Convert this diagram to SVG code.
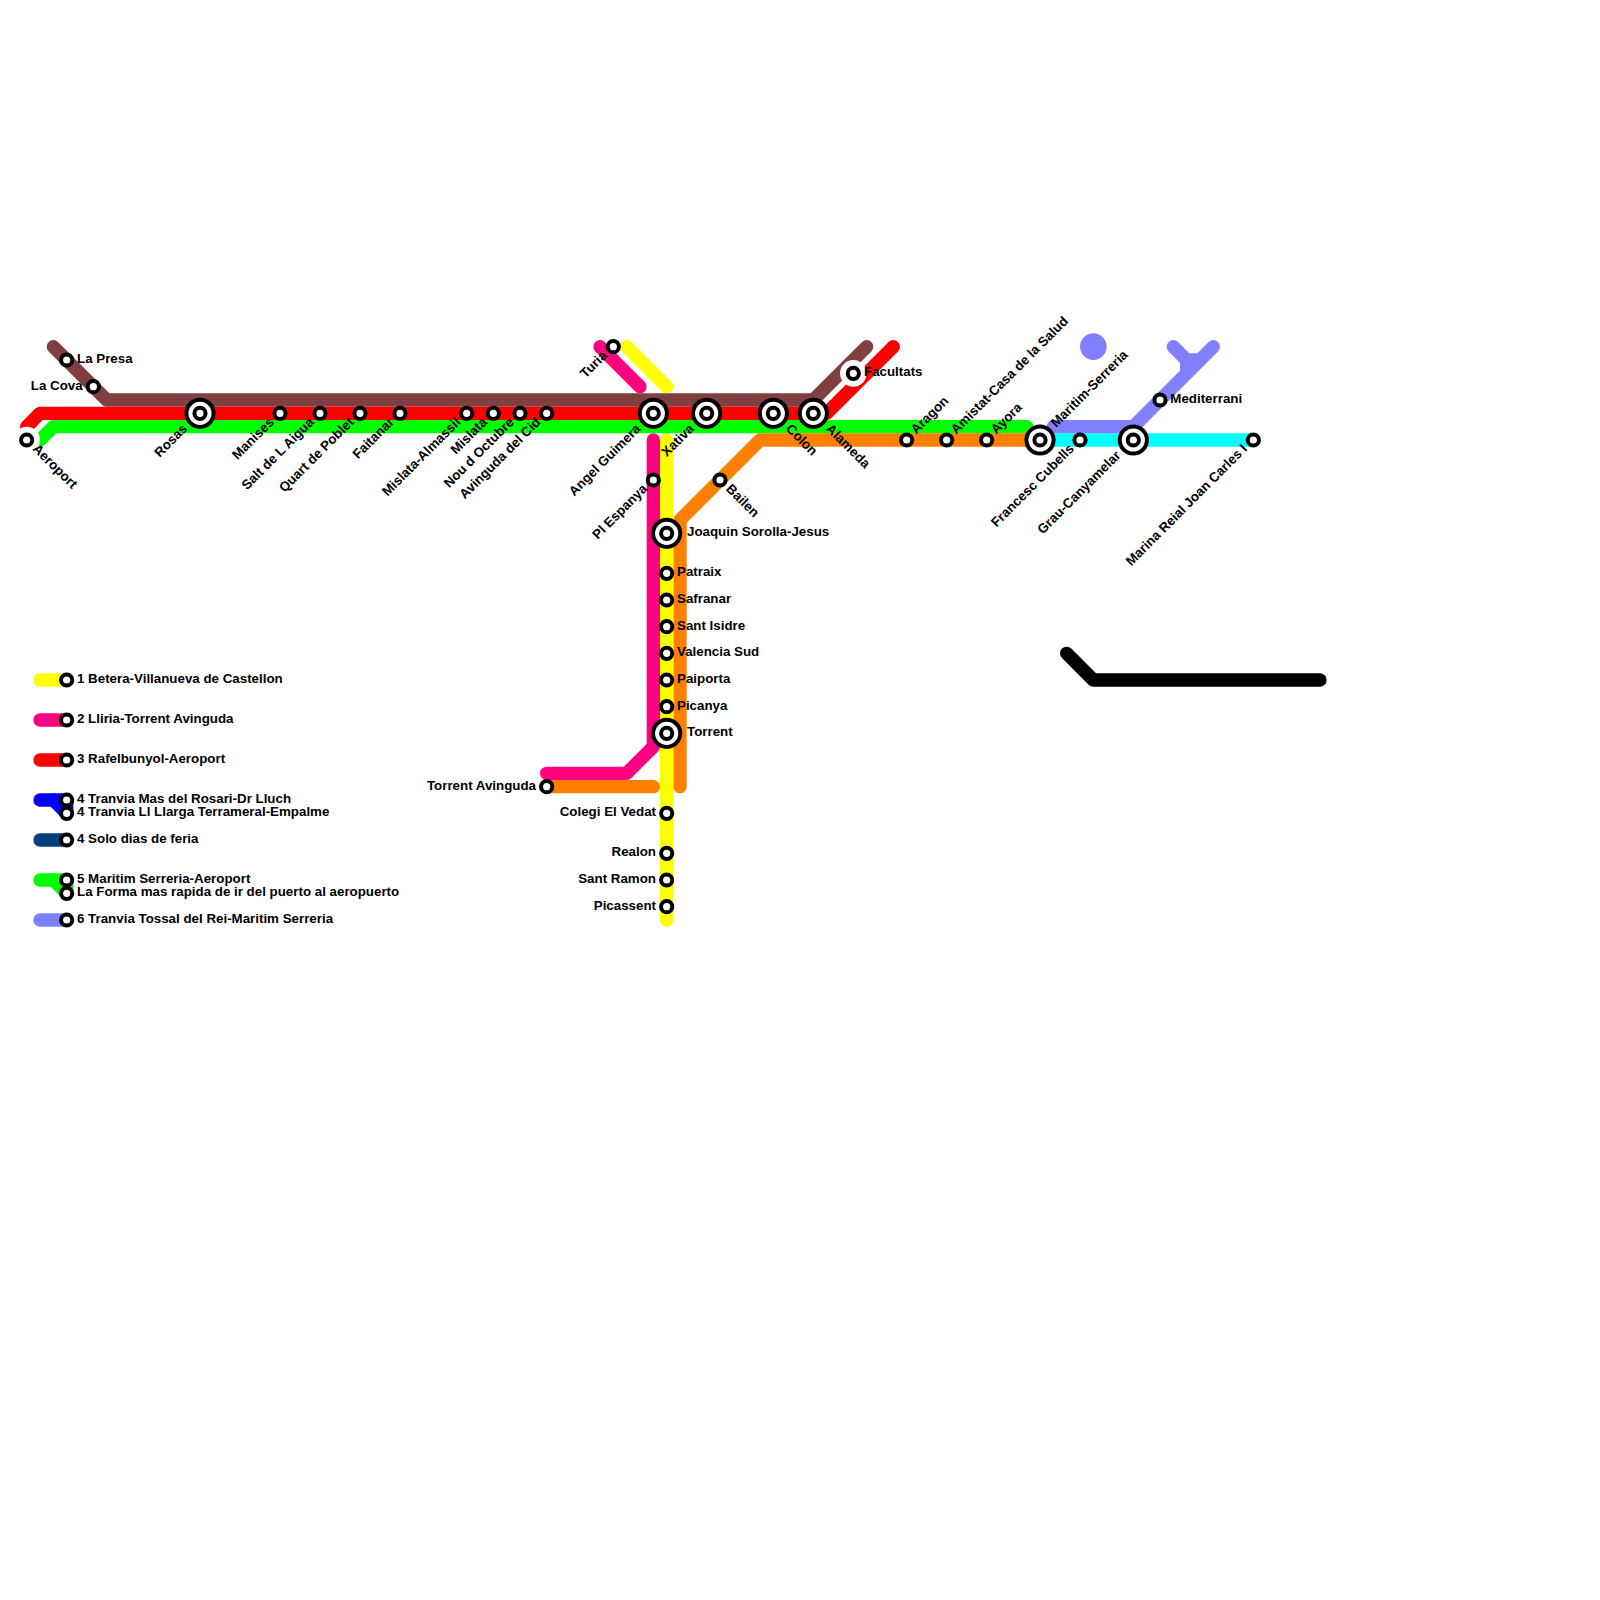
<svg xmlns="http://www.w3.org/2000/svg" xmlns:xlink="http://www.w3.org/1999/xlink" width="1600" height="1600" viewBox="0 0 1600 1600">
<style>
.l{fill:none;stroke-width:13.33;stroke-linecap:round;stroke-linejoin:round}
.y{stroke:#ffff00}.p{stroke:#ff0080}.r{stroke:#ff0000}.br{stroke:#804040}.g{stroke:#00ff00}.o{stroke:#ff8000}.c{stroke:#00ffff}.v{stroke:#8080ff}.b{stroke:#0000ff}.n{stroke:#004080}.k{stroke:#000000}
.s{fill:#fff;stroke:#000;stroke-width:4}
text{font-family:"Liberation Sans",Arial,Helvetica,sans-serif;font-size:13.33px;font-weight:bold;fill:#000}
.e{text-anchor:end}
</style>
<defs>
<g id="st"><circle class="s" r="5.6"/></g>
<g id="lg"><circle class="s" r="13.6"/><circle class="s" r="5.6"/></g>
<circle id="halo" r="13.33" fill="#fff"/>
</defs>
<rect width="1600" height="1600" fill="#fff"/>
<g id="connectors">
<path class="l br" d="M53.33 346.67L106.67 400H813.33L866.67 346.67"/>
<path class="l r" d="M26.67 440V426.67L40 413.33H826.67L893.33 346.67"/>
<path class="l g" d="M26.67 440H40L53.33 426.67H1026.67"/>
<path class="l o" d="M1040 440H760L680 520V786.67"/>
<path class="l o" d="M546.67 786.67H653.33"/>
<path class="l c" d="M1040 440H1253.33"/>
<path class="l v" d="M1053.33 426.67H1133.33L1213.33 346.67"/>
<path class="l v" d="M1173.33 346.67L1186.67 360H1200M1186.67 360V373.33"/>
<path class="l p" d="M600 346.67L640 386.67"/>
<path class="l p" d="M653.33 440V746.67L626.67 773.33H546.67"/>
<path class="l y" d="M626.67 346.67L666.67 386.67"/>
<path class="l y" d="M666.67 440V920"/>
<path class="l k" d="M1066.67 653.33L1093.33 680H1320"/>
<circle cx="1093.33" cy="346.67" r="13.33" fill="#8080ff"/>
<path class="l y" d="M40 680H66.67"/>
<path class="l p" d="M40 720H66.67"/>
<path class="l r" d="M40 760H66.67"/>
<path class="l b" d="M40 800H53.33L66.67 813.33"/>
<path class="l b" d="M53.33 800H66.67V813.33"/>
<path class="l n" d="M40 840H66.67"/>
<path class="l g" d="M40 880H53.33L66.67 893.33"/>
<path class="l g" d="M53.33 880H66.67V893.33"/>
<path class="l v" d="M40 920H66.67"/>
</g>
<g id="n-aeroport"><use xlink:href="#halo" x="26.67" y="440"/><use xlink:href="#st" x="26.67" y="440"/><text transform="translate(26.67 440) rotate(45)" x="10.6" y="3">Aeroport</text></g>
<g id="n-la-presa"><use xlink:href="#st" x="66.67" y="360"/><text x="77" y="363">La Presa</text></g>
<g id="n-la-cova"><use xlink:href="#st" x="93.33" y="386.67"/><text class="e" x="82.7" y="390">La Cova</text></g>
<g id="n-rosas"><use xlink:href="#lg" x="200" y="413.33"/><text class="e" transform="translate(200 413.33) rotate(-45)" x="-20" y="3">Rosas</text></g>
<g id="n-manises"><use xlink:href="#st" x="280" y="413.33"/><text class="e" transform="translate(280 413.33) rotate(-45)" x="-10.6" y="3">Manises</text></g>
<g id="n-salt"><use xlink:href="#st" x="320" y="413.33"/><text class="e" transform="translate(320 413.33) rotate(-45)" x="-10.6" y="3">Salt de L Aigua</text></g>
<g id="n-quart"><use xlink:href="#st" x="360" y="413.33"/><text class="e" transform="translate(360 413.33) rotate(-45)" x="-10.6" y="3">Quart de Poblet</text></g>
<g id="n-faitanar"><use xlink:href="#st" x="400" y="413.33"/><text class="e" transform="translate(400 413.33) rotate(-45)" x="-10.6" y="3">Faitanar</text></g>
<g id="n-almassil"><use xlink:href="#st" x="466.67" y="413.33"/><text class="e" transform="translate(466.67 413.33) rotate(-45)" x="-10.6" y="3">Mislata-Almassil</text></g>
<g id="n-mislata"><use xlink:href="#st" x="493.33" y="413.33"/><text class="e" transform="translate(493.33 413.33) rotate(-45)" x="-10.6" y="3">Mislata</text></g>
<g id="n-nou"><use xlink:href="#st" x="520" y="413.33"/><text class="e" transform="translate(520 413.33) rotate(-45)" x="-10.6" y="3">Nou d Octubre</text></g>
<g id="n-cid"><use xlink:href="#st" x="546.67" y="413.33"/><text class="e" transform="translate(546.67 413.33) rotate(-45)" x="-10.6" y="3">Avinguda del Cid</text></g>
<g id="n-guimera"><use xlink:href="#lg" x="653.33" y="413.33"/><text class="e" transform="translate(653.33 413.33) rotate(-45)" x="-20" y="3">Angel Guimera</text></g>
<g id="n-xativa"><use xlink:href="#lg" x="706.67" y="413.33"/><text class="e" transform="translate(706.67 413.33) rotate(-45)" x="-20" y="3">Xativa</text></g>
<g id="n-colon"><use xlink:href="#lg" x="773.33" y="413.33"/><text transform="translate(773.33 413.33) rotate(45)" x="20" y="3">Colon</text></g>
<g id="n-alameda"><use xlink:href="#lg" x="813.33" y="413.33"/><text transform="translate(813.33 413.33) rotate(45)" x="20" y="3">Alameda</text></g>
<g id="n-facultats"><use xlink:href="#halo" x="853.33" y="373.33"/><use xlink:href="#st" x="853.33" y="373.33"/><text x="864" y="376.3">Facultats</text></g>
<g id="n-aragon"><use xlink:href="#st" x="906.67" y="440"/><text transform="translate(906.67 440) rotate(-45)" x="10.6" y="3">Aragon</text></g>
<g id="n-amistat"><use xlink:href="#st" x="946.67" y="440"/><text transform="translate(946.67 440) rotate(-45)" x="10.6" y="3">Amistat-Casa de la Salud</text></g>
<g id="n-ayora"><use xlink:href="#st" x="986.67" y="440"/><text transform="translate(986.67 440) rotate(-45)" x="10.6" y="3">Ayora</text></g>
<g id="n-maritim"><use xlink:href="#lg" x="1040" y="440"/><text transform="translate(1040 440) rotate(-45)" x="20" y="3">Maritim-Serreria</text></g>
<g id="n-francesc"><use xlink:href="#st" x="1080" y="440"/><text class="e" transform="translate(1080 440) rotate(-45)" x="-10.6" y="3">Francesc Cubells</text></g>
<g id="n-grau"><use xlink:href="#lg" x="1133.33" y="440"/><text class="e" transform="translate(1133.33 440) rotate(-45)" x="-20" y="3">Grau-Canyamelar</text></g>
<g id="n-marina"><use xlink:href="#st" x="1253.33" y="440"/><text class="e" transform="translate(1253.33 440) rotate(-45)" x="-10.6" y="3">Marina Reial Joan Carles I</text></g>
<g id="n-mediterrani"><use xlink:href="#st" x="1160" y="400"/><text x="1170.3" y="403">Mediterrani</text></g>
<g id="n-turia"><use xlink:href="#st" x="613.33" y="346.67"/><text class="e" transform="translate(613.33 346.67) rotate(-45)" x="-10.6" y="3">Turia</text></g>
<g id="n-espanya"><use xlink:href="#st" x="653.33" y="480"/><text class="e" transform="translate(653.33 480) rotate(-45)" x="-10.6" y="3">Pl Espanya</text></g>
<g id="n-bailen"><use xlink:href="#st" x="720" y="480"/><text transform="translate(720 480) rotate(45)" x="10.6" y="3">Bailen</text></g>
<g id="n-joaquin"><use xlink:href="#lg" x="666.67" y="533.33"/><text x="687" y="536.3">Joaquin Sorolla-Jesus</text></g>
<g id="n-patraix"><use xlink:href="#st" x="666.67" y="573.33"/><text x="677" y="576.3">Patraix</text></g>
<g id="n-safranar"><use xlink:href="#st" x="666.67" y="600"/><text x="677" y="603">Safranar</text></g>
<g id="n-isidre"><use xlink:href="#st" x="666.67" y="626.67"/><text x="677" y="629.7">Sant Isidre</text></g>
<g id="n-valencia"><use xlink:href="#st" x="666.67" y="653.33"/><text x="677" y="656.3">Valencia Sud</text></g>
<g id="n-paiporta"><use xlink:href="#st" x="666.67" y="680"/><text x="677" y="683">Paiporta</text></g>
<g id="n-picanya"><use xlink:href="#st" x="666.67" y="706.67"/><text x="677" y="709.7">Picanya</text></g>
<g id="n-torrent"><use xlink:href="#lg" x="666.67" y="733.33"/><text x="687" y="736.3">Torrent</text></g>
<g id="n-avinguda"><use xlink:href="#st" x="546.67" y="786.67"/><text class="e" x="536" y="789.7">Torrent Avinguda</text></g>
<g id="n-colegi"><use xlink:href="#st" x="666.67" y="813.33"/><text class="e" x="656" y="816.3">Colegi El Vedat</text></g>
<g id="n-realon"><use xlink:href="#st" x="666.67" y="853.33"/><text class="e" x="656" y="856.3">Realon</text></g>
<g id="n-ramon"><use xlink:href="#st" x="666.67" y="880"/><text class="e" x="656" y="883">Sant Ramon</text></g>
<g id="n-picassent"><use xlink:href="#st" x="666.67" y="906.67"/><text class="e" x="656" y="909.7">Picassent</text></g>
<g id="legend-1"><use xlink:href="#st" x="66.67" y="680"/><text x="77" y="683">1 Betera-Villanueva de Castellon</text></g>
<g id="legend-2"><use xlink:href="#st" x="66.67" y="720"/><text x="77" y="723">2 Lliria-Torrent Avinguda</text></g>
<g id="legend-3"><use xlink:href="#st" x="66.67" y="760"/><text x="77" y="763">3 Rafelbunyol-Aeroport</text></g>
<g id="legend-4a"><use xlink:href="#st" x="66.67" y="800"/><text x="77" y="803">4 Tranvia Mas del Rosari-Dr Lluch</text></g>
<g id="legend-4b"><use xlink:href="#st" x="66.67" y="813.33"/><text x="77" y="816.3">4 Tranvia Ll Llarga Terrameral-Empalme</text></g>
<g id="legend-4c"><use xlink:href="#st" x="66.67" y="840"/><text x="77" y="843">4 Solo dias de feria</text></g>
<g id="legend-5a"><use xlink:href="#st" x="66.67" y="880"/><text x="77" y="883">5 Maritim Serreria-Aeroport</text></g>
<g id="legend-5b"><use xlink:href="#st" x="66.67" y="893.33"/><text x="77" y="896.3">La Forma mas rapida de ir del puerto al aeropuerto</text></g>
<g id="legend-6"><use xlink:href="#st" x="66.67" y="920"/><text x="77" y="923">6 Tranvia Tossal del Rei-Maritim Serreria</text></g>
</svg>
